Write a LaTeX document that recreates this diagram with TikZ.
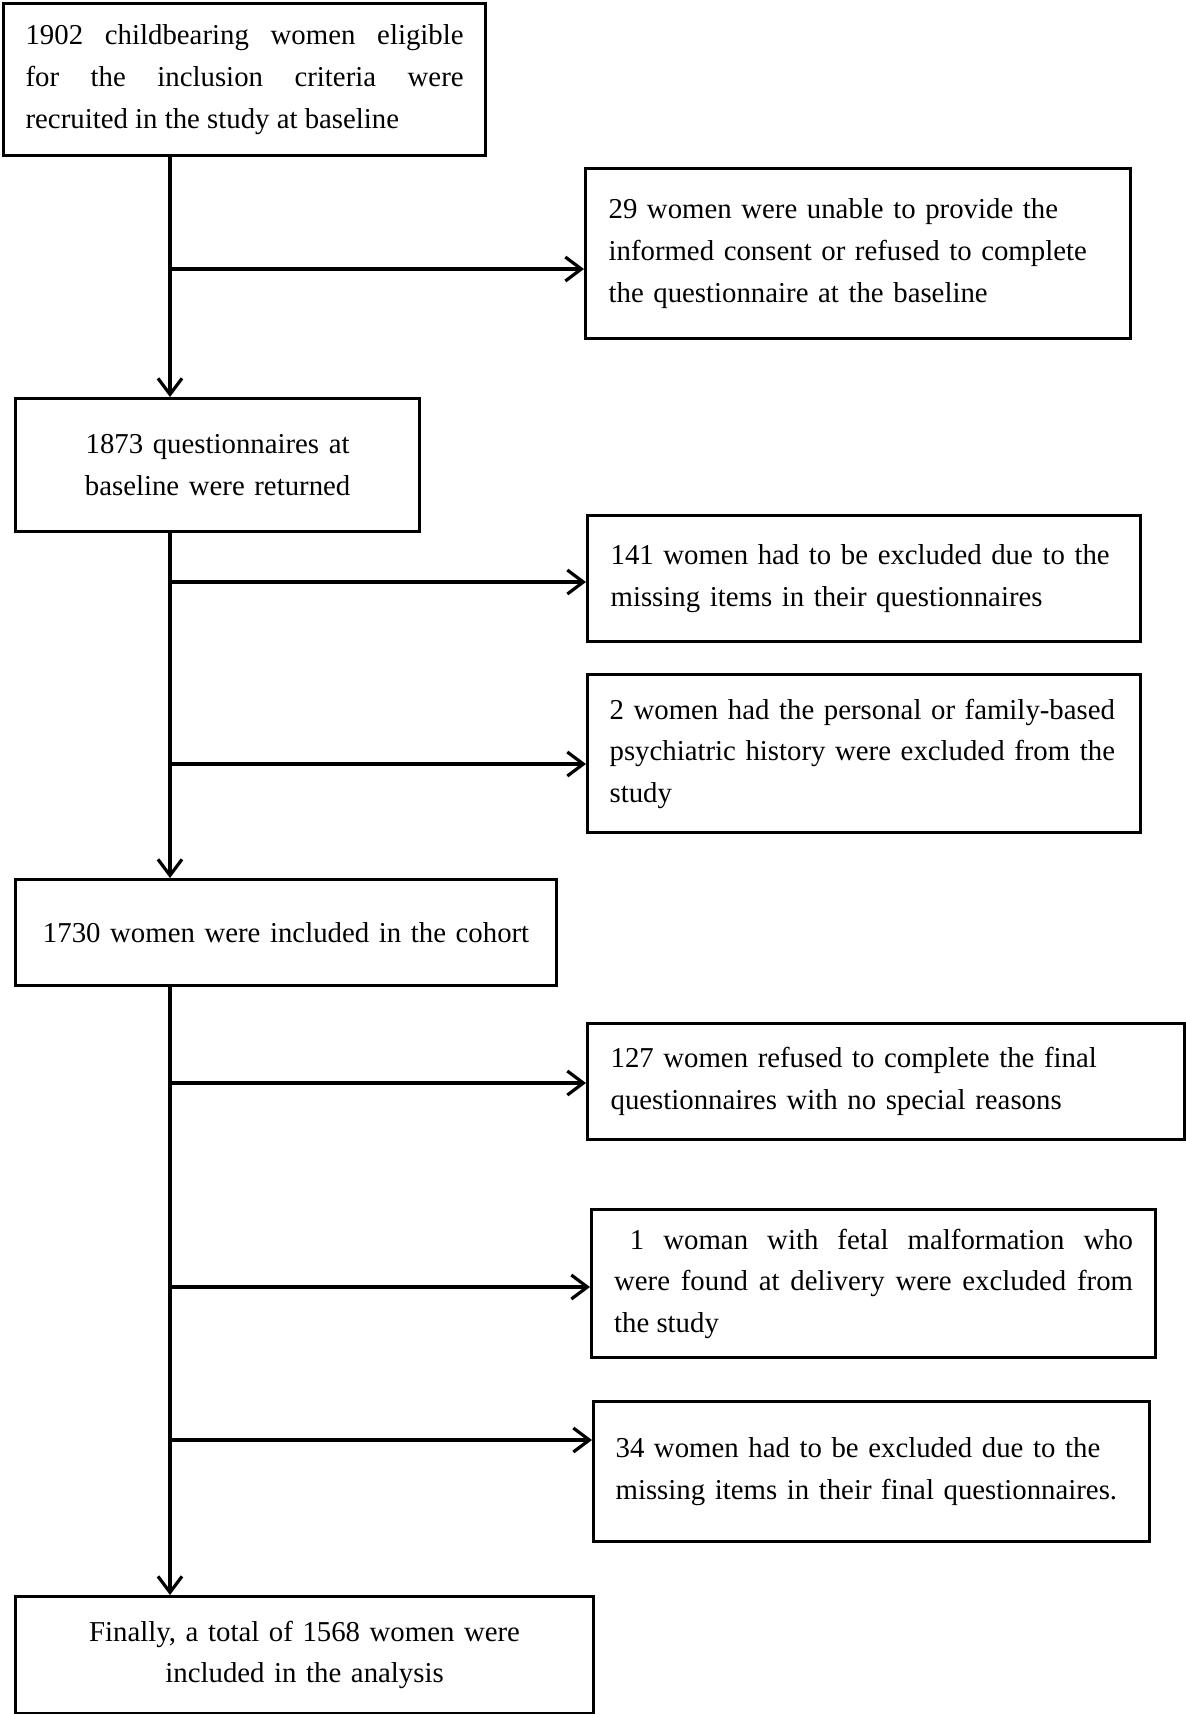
\documentclass[tikz,border=0pt]{standalone}
\usepackage{fontspec}
\setmainfont{Liberation Serif}
\usetikzlibrary{arrows.meta}
\begin{document}
\begin{tikzpicture}[x=0.5pt,y=-0.5pt,
  box/.style={draw, line width=1.6pt, inner sep=0pt, anchor=north west,
    font=\fontsize{14.4}{20.8}\selectfont},
  arr/.style={line width=1.6pt, -{Straight Barb[length=8pt,width=12pt]}}]
\useasboundingbox (0,0) rectangle (1185,1714);
\coordinate (spine) at (170,0);
\node[box, minimum width=241pt, minimum height=76pt, text width=219pt, align=justify] (B1) at (2,2)
  {1902 childbearing women eligible\linebreak for the inclusion criteria were\linebreak recruited in the study at baseline};
\node[box, minimum width=272.5pt, minimum height=85pt, text width=249.5pt, align=left] (B2) at (584,167)
  {\mbox{29 women were unable to provide the}\\\mbox{informed consent or refused to complete}\\\mbox{the questionnaire at the baseline}};
\node[box, minimum width=202pt, minimum height=66.5pt, text width=190pt, align=center] (B3) at (14,397)
  {\mbox{1873 questionnaires at}\\\mbox{baseline were returned}};
\node[box, minimum width=276.5pt, minimum height=63pt, text width=253.5pt, align=left] (B4) at (586,514)
  {\mbox{141 women had to be excluded due to the}\\\mbox{missing items in their questionnaires}};
\node[box, minimum width=276.5pt, minimum height=79pt, text width=254.5pt, align=left] (B5) at (586,673)
  {\mbox{2 women had the personal or family-based}\\\mbox{psychiatric history were excluded from the}\\\mbox{study}};
\node[box, minimum width=270.5pt, minimum height=53pt, text width=260pt, align=center] (B6) at (14,878)
  {\mbox{1730 women were included in the cohort}};
\node[box, minimum width=298.5pt, minimum height=58pt, text width=275.5pt, align=left] (B7) at (586,1022)
  {\mbox{127 women refused to complete the final}\\\mbox{questionnaires with no special reasons}};
\node[box, minimum width=282pt, minimum height=74pt, text width=259.5pt, align=justify] (B8) at (590,1208)
  {\hspace*{0.55em}1 woman with fetal malformation who\linebreak were found at delivery were excluded from\linebreak the study};
\node[box, minimum width=278pt, minimum height=70pt, text width=256pt, align=left] (B9) at (592,1400)
  {\mbox{34 women had to be excluded due to the}\\\mbox{missing items in their final questionnaires.}};
\node[box, minimum width=289pt, minimum height=58.5pt, text width=270pt, align=center] (B10) at (14,1595)
  {\mbox{Finally, a total of 1568 women were}\\\mbox{included in the analysis}};
\draw[arr] (spine |- B1.south) -- (spine |- B3.north);
\draw[arr] (spine |- B3.south) -- (spine |- B6.north);
\draw[arr] (spine |- B6.south) -- (spine |- B10.north);
\coordinate (h1) at (170,269);
\coordinate (h2) at (170,582);
\coordinate (h3) at (170,764);
\coordinate (h4) at (170,1083);
\coordinate (h5) at (170,1287);
\coordinate (h6) at (170,1440);
\draw[arr] (h1) -- (h1 -| B2.west);
\draw[arr] (h2) -- (h2 -| B4.west);
\draw[arr] (h3) -- (h3 -| B5.west);
\draw[arr] (h4) -- (h4 -| B7.west);
\draw[arr] (h5) -- (h5 -| B8.west);
\draw[arr] (h6) -- (h6 -| B9.west);
\end{tikzpicture}
\end{document}
